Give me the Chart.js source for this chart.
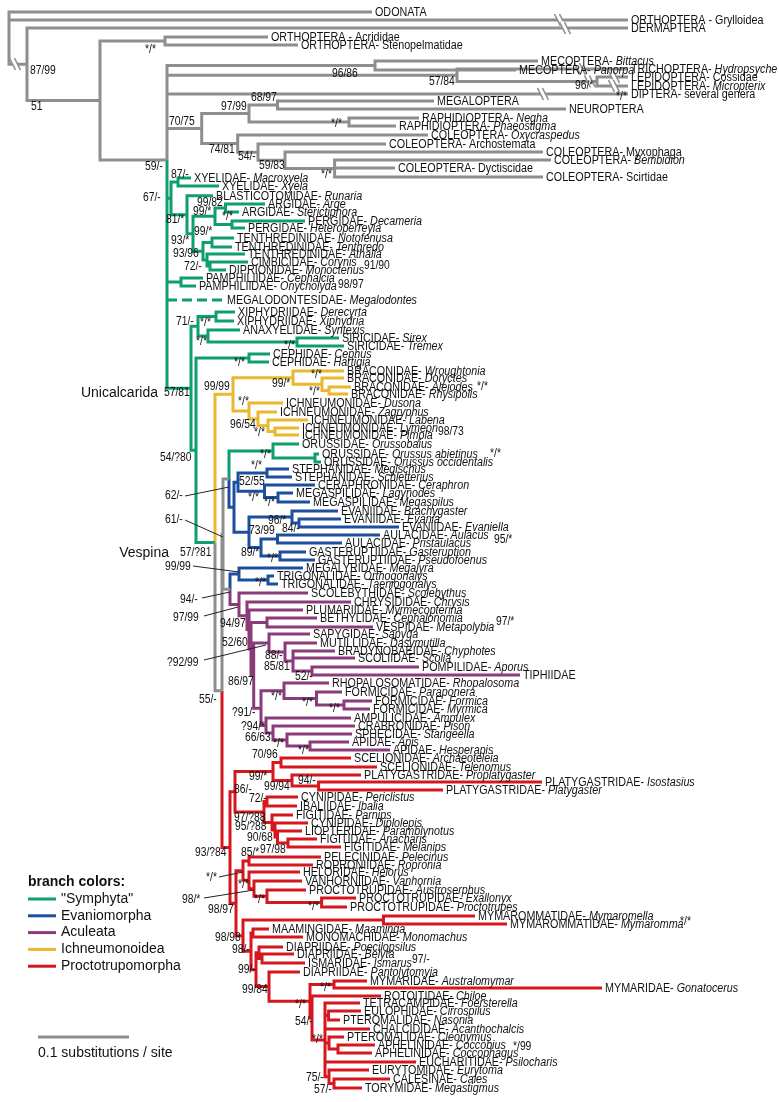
<!DOCTYPE html>
<html>
<head>
<meta charset="utf-8">
<script src="https://cdn.jsdelivr.net/npm/chart.js@4.4.1/dist/chart.umd.min.js"></script>
<style>
  html, body { margin: 0; padding: 0; background: #fff; }
  #wrap { width: 779px; height: 1102px; }
</style>
</head>
<body>
<div id="wrap"><canvas id="tree" width="779" height="1102"></canvas></div>
<script>
'use strict';

// ── Tree data ────────────────────────────────────────────────
// Newick-like: leaf = "NAME- |Genus:tipX@row", node = "(...)colour:x[@row]"
// x is distance from the root in px, row is the leaf line.
const outgroups =
  "(ODONATA:372@12, ORTHOPTERA - Grylloidea:628@20," +
  " (DERMAPTERA:628@28," +
  "  ((ORTHOPTERA - Acrididae:268@37, ORTHOPTERA- Stenopelmatidae:298@45):165," +
  "   ((MECOPTERA- |Bittacus:538@61, MECOPTERA- |Panorpa:516@70):375," +
  "    (TRICHOPTERA- |Hydropsyche:628@69, (LEPIDOPTERA- Cossidae:628@77, LEPIDOPTERA- |Micropterix:628@86):597):457," +
  "    DIPTERA- several genera:628@94, {neuropterida}, {hymenoptera}):167@160):100):27)k:9";

const neuropterida =
  "(((MEGALOPTERA:434@101, NEUROPTERA:566@109):277.5, (RAPHIDIOPTERA- |Negha:419@118, RAPHIDIOPTERA- |Phaeostigma:396@126):349):249," +
  " (COLEOPTERA- |Oxycraspedus:428@135, (COLEOPTERA- Archostemata:386@144, (COLEOPTERA- Myxophaga:543@152," +
  "  (COLEOPTERA- |Bembidion:551@160, COLEOPTERA- Dyctiscidae:395@168, COLEOPTERA- Scirtidae:543@177):334.6):285):258):237.7):201.7";

const hymenoptera =
  "(((XYELIDAE- |Macroxyela:191@178, XYELIDAE- |Xyela:219@186):178," +
  "  (BLASTICOTOMIDAE- |Runaria:213@195.7," +
  "   (((ARGIDAE- |Arge:265@204, ARGIDAE- |Sterictiphora:239@212):225.5, (PERGIDAE- |Decameria:305@221, PERGIDAE- |Heteroperreyia:245@228):232):215," +
  "    ((TENTHREDINIDAE- |Notofenusa:234@238, TENTHREDINIDAE- |Tenthredo:232@247):212," +
  "     (TENTHREDINIDAE- |Athalia:245@254, (CIMBICIDAE- |Corynis:248@262, DIPRIONIDAE- |Monoctenus:226@270):210):207):203):193):187):171," +
  " (PAMPHILIIDAE- |Cephalcia:203@278, PAMPHILIIDAE- |Onycholyda:196@286):181," +
  " ~MEGALODONTESIDAE- |Megalodontes:224@300, {unicalcarida})g:167";

const unicalcarida =
  "(((XIPHYDRIIDAE- |Derecyrta:235@312, XIPHYDRIIDAE- |Xiphydria:234@321):216," +
  "  (ANAXYELIDAE- |Syntexis:240@330, (SIRICIDAE- |Sirex:339@338, SIRICIDAE- |Tremex:344@346):297):208):198," +
  " ((CEPHIDAE- |Cephus:270@354, CEPHIDAE- |Hartigia:269@362):249, {vespina}):196):191";

const vespina =
  "({ichneumonoidea}," +
  " ((((ORUSSIDAE- |Orussobaius:299@444, (ORUSSIDAE- |Orussus abietinus:319@454, ORUSSIDAE- |Orussus occidentalis:321@462):315)g:273," +
  "    {evaniomorpha}):229, ({megalyroidea}, {aculeata}):230):223, {proctotrupomorpha})k:222):215";

const ichneumonoidea =
  "((BRACONIDAE- |Wroughtonia:344@371, (BRACONIDAE- |Doryctes:344@378, (BRACONIDAE- |Aleiodes:351@387, BRACONIDAE- |Rhysipolis:348@394):329):322):293," +
  " (ICHNEUMONIDAE- |Dusona:283@403, (ICHNEUMONIDAE- |Zagryphus:277@412, (ICHNEUMONIDAE- |Labena:308@420," +
  "  (ICHNEUMONIDAE- |Lymeon:299@428, ICHNEUMONIDAE- |Pimpla:299@435):275):268):258):249)o:233";

const evaniomorpha =
  "(((STEPHANIDAE- |Megischus:289@469, STEPHANIDAE- |Schletterius:292@477):267," +
  "  (CERAPHRONIDAE- |Ceraphron:315@485, (MEGASPILIDAE- |Lagynodes:293@493, MEGASPILIDAE- |Megaspilus:310@502):278):264.5):238," +
  " ((EVANIIDAE- |Brachygaster:338@511, (EVANIIDAE- |Evania:341@519, EVANIIDAE- |Evaniella:399@527):299):292," +
  "  ((AULACIDAE- |Aulacus:380@535, AULACIDAE- |Pristaulacus:342@543):277.5," +
  "   (GASTERUPTIIDAE- |Gasteruption:306@552, GASTERUPTIIDAE- |Pseudofoenus:315@560):280):261):249)b:234";

const megalyroidea =
  "(MEGALYRIDAE- |Megalyra:303@568, (TRIGONALIDAE- |Orthogonalys:274@576, TRIGONALIDAE- |Taeniogonalys:278@584):268)b:239";

const aculeata =
  "(SCOLEBYTHIDAE- |Scolebythus:308@593, (CHRYSIDIDAE- |Chrysis:351@602, (PLUMARIIDAE- |Myrmecopterina:303@610," +
  " ((BETHYLIDAE- |Cephalonomia:317@618, VESPIDAE- |Metapolybia:373@627):267," +
  "  ((SAPYGIDAE- |Sapyga:310@634, (MUTILLIDAE- |Dasymutilla:317@643, (BRADYNOBAEIDAE- |Chyphotes:335@651, SCOLIIDAE- |Scolia:355@658," +
  "    (POMPILIDAE- |Aporus:419@667, TIPHIIDAE:520@675):312):293):285):269," +
  "   ((RHOPALOSOMATIDAE- |Rhopalosoma:329@683, (FORMICIDAE- |Paraponera:342@692, (FORMICIDAE- |Formica:372@701, FORMICIDAE- |Myrmica:370@709):344):316.5):284," +
  "    (AMPULICIDAE- |Ampulex:351@718, (CRABRONIDAE- |Pison:355@726, (SPHECIDAE- |Stangeella:352@734," +
  "     (APIDAE- |Apis:349@742, APIDAE- |Hesperapis:390@750):310):287):273):266):261):253.7):251):249):247)p:239";

const proctotrupomorpha =
  "((((SCELIONIDAE- |Archaeoteleia:351@758, SCELIONIDAE- |Telenomus:377@767):281," +
  "   (PLATYGASTRIDAE- |Proplatygaster:361@775, (PLATYGASTRIDAE- |Isostasius:542@782, PLATYGASTRIDAE- |Platygaster:443@790):318.6):292):273," +
  "  ((CYNIPIDAE- |Periclistus:298@797, IBALIIDAE- |Ibalia:297@806):267," +
  "   (FIGITIDAE- |Parnips:293@815, (CYNIPIDAE- |Diplolepis:308@823, (LIOPTERIDAE- |Paramblynotus:302@831," +
  "    (FIGITIDAE- |Anacharis:317@839, FIGITIDAE- |Melanips:341@847):288):277.5):275):272):264):235," +
  " (((PELECINIDAE- |Pelecinus:321@857, ROPRONIIDAE- |Ropronia:313@865):249," +
  "   (HELORIDAE- |Helorus:300@872, (VANHORNIIDAE- |Vanhornia:302@881, (PROCTOTRUPIDAE- |Austroserphus:306@890," +
  "    (PROCTOTRUPIDAE- |Exallonyx:356@898, PROCTOTRUPIDAE- |Proctotrupes:347@907):321.6):267):254):249):243," +
  "  ((MYMAROMMATIDAE- |Mymaromella:475@916, MYMAROMMATIDAE- |Mymaromma:507@924):383.5," +
  "   ((MAAMINGIDAE- |Maaminga:269@929, MONOMACHIDAE- |Monomachus:303@937):253," +
  "    ((DIAPRIIDAE- |Poecilopsilus:283@947, (DIAPRIIDAE- |Belyta:294@954, ISMARIDAE- |Ismarus:305@963):262):259," +
  "     (DIAPRIIDAE- |Pantolytomyia:300@972, {chalcidoidea}):269):256):251):243):236)r:230";

const chalcidoidea =
  "((MYMARIDAE- |Australomymar:367@981, MYMARIDAE- |Gonatocerus:602@988):334," +
  " (ROTOITIDAE- |Chiloe:381@996," +
  "  (TETRACAMPIDAE- |Foersterella:360@1003, (EULOPHIDAE- |Cirrospilus:361@1011, PTEROMALIDAE- |Nasonia:340@1020):328.6," +
  "   CHALCIDIDAE- |Acanthochalcis:370@1029, (PTEROMALIDAE- |Cleonymus:344@1037, (APHELINIDAE- |Coccobius:375@1045, APHELINIDAE- |Coccophagus:372@1053):338):329," +
  "   EUCHARITIDAE- |Psilocharis:416@1062, (EURYTOMIDAE- |Eurytoma:369@1070, (CALESINAE- |Cales:390@1079, TORYMIDAE- |Megastigmus:362@1088):334):329):325):312):310";

const cladeParts = { neuropterida, hymenoptera, unicalcarida, vespina, ichneumonoidea,
  evaniomorpha, megalyroidea, aculeata, proctotrupomorpha, chalcidoidea };

// support values: [text, x, row]
const supports = [
  ['87/99', 30, 71], ['51', 31, 107], ['*/*', 145, 50], ['96/86', 332, 74], ['57/84', 429, 82], ['96/*', 575, 86], ['*/*', 616, 97],
  ['68/97', 251, 98], ['97/99', 221, 107], ['*/*', 331, 124], ['70/75', 169, 122], ['74/81', 209, 150], ['54/-', 238, 157],
  ['59/83', 259, 166], ['*/*', 321, 175], ['59/-', 145, 167],
  ['87/-', 171, 175], ['67/-', 143, 198], ['99/82', 197, 203], ['99/*', 193, 212], ['*/*', 222, 217], ['81/*', 166, 220],
  ['99/*', 194, 232], ['93/*', 171, 241], ['93/96', 173, 254], ['72/-', 184, 267], ['91/90', 364, 266], ['98/97', 338, 285],
  ['71/-', 176, 322], ['*/*', 200, 323], ['*/*', 196, 342], ['*/*', 284, 346], ['*/*', 234, 363],
  ['57/81', 164, 393], ['99/99', 204, 387], ['99/*', 272, 384], ['*/*', 311, 375], ['*/*', 309, 392], ['*/*', 477, 387],
  ['*/*', 238, 402], ['96/54', 230, 425], ['*/*', 254, 433], ['98/73', 438, 432],
  ['54/?80', 160, 458], ['*/*', 260, 455], ['*/*', 490, 454], ['*/*', 251, 466], ['52/55', 239, 482], ['62/-', 165, 496],
  ['*/*', 248, 498], ['*/*', 264, 503], ['61/-', 165, 520], ['96/*', 268, 521], ['84/-', 282, 529], ['73/99', 249, 531],
  ['95/*', 494, 540], ['57/?81', 180, 553], ['89/*', 241, 553], ['*/*', 267, 559], ['99/99', 165, 567], ['*/*', 255, 583],
  ['94/-', 180, 600], ['97/99', 173, 618], ['94/97', 220, 624], ['97/*', 496, 622],
  ['52/60', 222, 643], ['?92/99', 167, 663], ['88/-', 265, 656], ['85/81', 264, 667], ['52/-', 295, 677], ['86/97', 228, 682],
  ['*/*', 271, 697], ['55/-', 199, 700], ['*/*', 302, 703], ['*/*', 329, 709], ['?91/-', 232, 713],
  ['?94/*', 241, 727], ['66/63', 245, 738], ['*/*', 273, 744], ['*/*', 298, 751],
  ['70/96', 252, 755], ['99/*', 249, 777], ['94/-', 298, 781], ['99/94', 264, 787], ['86/-', 234, 790], ['72/-', 249, 799],
  ['97/?88', 234, 818], ['95/?88', 235, 827], ['90/68', 247, 838], ['97/98', 260, 850], ['93/?84', 195, 853], ['85/*', 241, 853],
  ['*/*', 206, 878], ['*/*', 238, 885], ['98/*', 182, 900], ['*/*', 254, 900], ['*/*', 308, 907], ['98/97', 208, 910],
  ['*/*', 680, 922], ['98/98', 215, 938], ['98/-', 232, 950], ['97/-', 412, 960], ['99/-', 238, 970],
  ['*/*', 320, 988], ['99/84', 242, 990], ['*/*', 295, 1005], ['54/-', 295, 1022], ['*/*', 312, 1040], ['*/99', 513, 1047],
  ['75/-', 306, 1078], ['57/-', 314, 1090]
];

// leader lines from a support value to its node: [x1, row1, x2, row2]
const leaders = [
  [185, 496, 229, 487], [185, 520, 223, 537], [193, 566, 239, 572], [202, 598, 230, 592],
  [204, 616, 238, 607], [204, 660, 266, 645], [219, 877, 243, 872], [204, 898, 254, 890]
];

// broken (shortened) branches: [x, row]
const breaks = [[15, 64], [560, 20], [565, 28], [580, 69], [590, 81.5], [614, 77], [614, 86], [543, 94]];

const cladeNames = [['Unicalcarida', 158, 393], ['Vespina', 169, 553]];

const legendNames = ['"Symphyta"', 'Evaniomorpha', 'Aculeata', 'Ichneumonoidea', 'Proctotrupomorpha'];
const legendCodes = ['g', 'b', 'p', 'o', 'r'];
const scaleBar = [38, 129]; // 0.1 substitutions / site

const COLORS = { k: '#8e8e8e', g: '#0f9e6f', b: '#1d4f9f', o: '#e9b82d', p: '#8b3b79', r: '#d5171e' };
const SANS = "'Liberation Sans', Arial, Helvetica, sans-serif";
const SQUEEZE = 0.86; // the figure uses a condensed face

// ── Parse ─────────────────────────────────────────────────────
function expand(s) {
  return s.replace(/\{(\w+)\}/g, (m, k) => expand(cladeParts[k]));
}

function parseTree(s) {
  let i = 0;
  const skip = () => { while (s[i] === ' ') i++; };
  function read() {
    skip();
    const n = { kids: [] };
    if (s[i] === '(') {
      i++;
      n.kids.push(read());
      skip();
      while (s[i] === ',') { i++; n.kids.push(read()); skip(); }
      i++;
    }
    let tok = '';
    while (i < s.length && s[i] !== ',' && s[i] !== ')') tok += s[i++];
    tok = tok.trim();
    const c = tok.lastIndexOf(':');
    const head = tok.slice(0, c).trim();
    const [xs, ys] = tok.slice(c + 1).split('@');
    n.x = parseFloat(xs);
    if (ys !== undefined) n.y = parseFloat(ys);
    if (n.kids.length) n.code = head || null;
    else { n.dash = head[0] === '~'; n.name = head.replace(/^~/, ''); }
    return n;
  }
  return read();
}

function layout(n, code) {
  n.col = n.code || code;
  n.kids.forEach(k => layout(k, n.col));
  if (n.kids.length && n.y === undefined) n.y = (n.kids[0].y + n.kids[n.kids.length - 1].y) / 2;
}

const root = parseTree(expand(outgroups));
layout(root, 'k');

const segs = { k: [], g: [], b: [], o: [], p: [], r: [], dash: [] };
const leaves = [];
const GAP = { x: null, y: null };

function collect(n) {
  if (!n.kids.length) { leaves.push(n); return; }
  n.kids.forEach(k => {
    if (k.dash) {
      segs[k.col].push({ x: n.x, y: n.y }, { x: n.x, y: k.y }, GAP);
      segs.dash.push({ x: n.x, y: k.y }, { x: k.x, y: k.y }, GAP);
    } else {
      segs[k.col].push({ x: n.x, y: n.y }, { x: n.x, y: k.y }, { x: k.x, y: k.y }, GAP);
    }
    collect(k);
  });
}
collect(root);

// condensed text helper, returns drawn width
function squeezed(ctx, txt, x, y, font) {
  ctx.save();
  ctx.font = font;
  ctx.translate(x, y);
  ctx.scale(SQUEEZE, 1);
  ctx.fillText(txt, 0, 0);
  const w = ctx.measureText(txt).width * SQUEEZE;
  ctx.restore();
  return w;
}

// ── Text / decorations plugin ─────────────────────────────────
const treeText = {
  id: 'treeText',
  afterDatasetsDraw(chart) {
    const { ctx } = chart;
    const X = v => chart.scales.x.getPixelForValue(v);
    const Y = v => chart.scales.y.getPixelForValue(v);
    ctx.save();

    // broken branches
    breaks.forEach(([bx, by]) => {
      const px = X(bx), py = Y(by);
      ctx.strokeStyle = '#fff'; ctx.lineWidth = 5;
      ctx.beginPath(); ctx.moveTo(px - 3, py - 6); ctx.lineTo(px + 3, py + 6); ctx.stroke();
      ctx.strokeStyle = COLORS.k; ctx.lineWidth = 1.6;
      [-2.5, 2.5].forEach(d => {
        ctx.beginPath(); ctx.moveTo(px - 3 + d, py - 6); ctx.lineTo(px + 3 + d, py + 6); ctx.stroke();
      });
    });

    // leader lines
    ctx.strokeStyle = '#222'; ctx.lineWidth = 1;
    leaders.forEach(([x1, y1, x2, y2]) => {
      ctx.beginPath(); ctx.moveTo(X(x1), Y(y1)); ctx.lineTo(X(x2), Y(y2)); ctx.stroke();
    });

    ctx.fillStyle = '#111';
    ctx.textBaseline = 'middle';
    ctx.textAlign = 'left';

    // taxon labels
    leaves.forEach(l => {
      const px = X(l.x) + 3, py = Y(l.y) + 0.5;
      const [fam, gen] = l.name.split('|');
      const w = squeezed(ctx, fam, px, py, `12.5px ${SANS}`);
      if (gen) squeezed(ctx, gen, px + w, py, `italic 12.5px ${SANS}`);
    });

    // support values
    supports.forEach(([t, sx, sy]) => squeezed(ctx, t, X(sx), Y(sy), `12px ${SANS}`));

    // clade names
    ctx.font = `14px ${SANS}`;
    ctx.textAlign = 'right';
    cladeNames.forEach(([t, cx, cy]) => ctx.fillText(t, X(cx), Y(cy)));
    ctx.textAlign = 'left';

    // legend
    ctx.font = `bold 14px ${SANS}`;
    ctx.fillText('branch colors:', X(28), Y(882));
    ctx.font = `14px ${SANS}`;
    legendNames.forEach((name, i) => {
      const ly = Y(899 + i * 16.8);
      ctx.strokeStyle = COLORS[legendCodes[i]]; ctx.lineWidth = 3;
      ctx.beginPath(); ctx.moveTo(X(28), ly); ctx.lineTo(X(56), ly); ctx.stroke();
      ctx.fillText(name, X(61), ly);
    });

    // scale bar
    ctx.strokeStyle = COLORS.k; ctx.lineWidth = 3;
    ctx.beginPath(); ctx.moveTo(X(scaleBar[0]), Y(1037)); ctx.lineTo(X(scaleBar[1]), Y(1037)); ctx.stroke();
    ctx.fillText('0.1 substitutions / site', X(38), Y(1053));

    ctx.restore();
  }
};

// ── Chart ─────────────────────────────────────────────────────
const order = ['k', 'g', 'o', 'b', 'p', 'r'];
const datasets = order.map(c => ({
  label: c,
  data: segs[c],
  borderColor: COLORS[c],
  borderWidth: 3,
  showLine: true,
  spanGaps: false,
  pointRadius: 0,
  borderCapStyle: 'butt',
  borderJoinStyle: 'miter',
  tension: 0
}));
datasets.push({
  label: 'dash',
  data: segs.dash,
  borderColor: COLORS.g,
  borderWidth: 3,
  borderDash: [10, 5],
  showLine: true,
  spanGaps: false,
  pointRadius: 0,
  borderCapStyle: 'butt'
});

new Chart(document.getElementById('tree'), {
  type: 'scatter',
  data: { datasets },
  options: {
    responsive: false,
    devicePixelRatio: 1,
    animation: false,
    events: [],
    layout: { padding: 0 },
    plugins: { legend: { display: false }, tooltip: { enabled: false } },
    scales: {
      x: { type: 'linear', min: 0, max: 779, display: false },
      y: { type: 'linear', min: 0, max: 1102, reverse: true, display: false }
    }
  },
  plugins: [treeText]
});
</script>
</body>
</html>
